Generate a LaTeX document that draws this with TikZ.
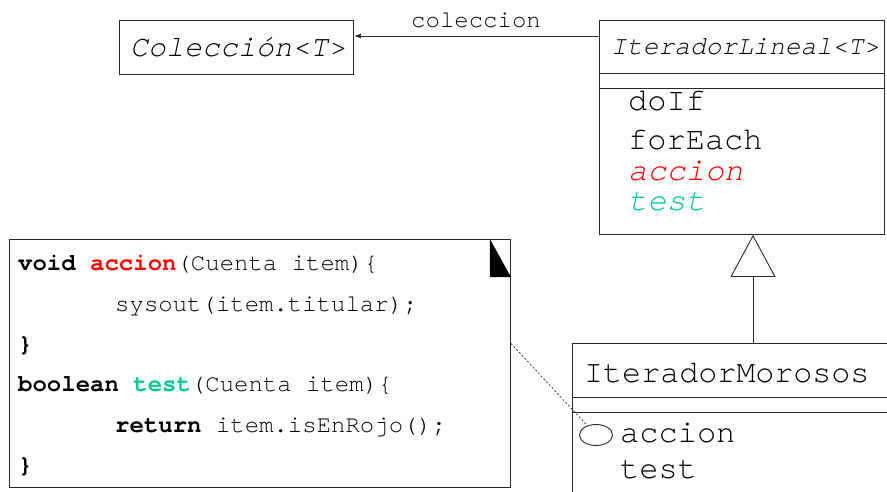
\documentclass[tikz,border=0pt]{standalone}
\usepackage{fontspec}
\newfontfamily\cour{TeX Gyre Cursor}
\usetikzlibrary{arrows.meta,shapes.geometric}
\definecolor{hookred}{RGB}{255,0,0}
\definecolor{hookteal}{RGB}{0,200,150}
\definecolor{edge}{RGB}{40,40,40}
\newcommand\setfs[1]{\fontsize{#1}{#1}\selectfont}
\tikzset{
  classbox/.style={draw=edge, line width=0.9pt, anchor=north west, inner sep=0pt},
  rule/.style={draw=edge, line width=0.9pt},
  lbl/.style={inner sep=0pt, anchor=base west, text=black},
  member/.style={lbl, font=\cour\setfs{32}},
  code/.style={lbl, font=\cour\setfs{24}},
}
\begin{document}
\begin{tikzpicture}[x=1pt,y=-1pt]
\useasboundingbox (0,0) rectangle (887,491);
\clip (0,0) rectangle (887,491);

% Colección<T>
\node[classbox, minimum width=234pt, minimum height=54pt] (col) at (119,20) {};
\node[lbl, anchor=base, font=\cour\itshape\setfs{30}] (colname) at (238,56) {Colección<T>};

% IteradorLineal<T>
\node[classbox, minimum width=285pt, minimum height=214pt] (lineal) at (599,20) {};
\draw[rule] (lineal.west |- 0,73) -- (lineal.east |- 0,73);
\draw[rule] (lineal.west |- 0,88) -- (lineal.east |- 0,88);
\node[lbl, font=\cour\itshape\setfs{26.3}] (linealname) at (611,54) {IteradorLineal<T>};
\node[member] (doif) at (628,110) {doIf};
\node[member] (foreach) at (628,149) {forEach};
\node[member, font=\cour\itshape\setfs{32}, text=hookred] (laccion) at (628,180) {accion};
\node[member, font=\cour\itshape\setfs{32}, text=hookteal] (ltest) at (628,210) {test};

% association
\draw[rule, -{Latex[length=7pt,width=5pt]}] (lineal.west |- 0,36) -- (col.east |- 0,36);
\node[lbl, anchor=base, font=\cour\setfs{24}] (assoclabel) at (476,27) {coleccion};

% IteradorMorosos
\node[classbox, minimum width=330pt, minimum height=170pt] (morosos) at (572,343) {};
\draw[rule] (morosos.west |- 0,397) -- (morosos.east |- 0,397);
\draw[rule] (morosos.west |- 0,412) -- (morosos.east |- 0,412);
\node[member, font=\cour\setfs{31.7}] (morosname) at (584,382) {IteradorMorosos};
\node[draw=edge, line width=0.9pt, ellipse, minimum width=33pt, minimum height=21pt, inner sep=0pt] (oval) at (596,435) {};
\node[member] (maccion) at (620,442) {accion};
\node[member] (mtest) at (620,478) {test};

% generalization
\draw[rule, -{Triangle[open,length=42pt,width=45pt]}] (753,0 |- morosos.north) -- (753,0 |- lineal.south);

% code note
\node[classbox, minimum width=501pt, minimum height=248pt] (note) at (9,239) {};
\fill[black] (note.north east) ++(-21,0) -- ++(0,38) -- ++(21,0) -- cycle;
\node[code] (c1) at (18,270) {\bfseries void \textcolor{hookred}{accion}\mdseries(Cuenta item)\{};
\node[code] (c2) at (115,311) {sysout(item.titular);};
\node[code] (c3) at (18,351) {\bfseries \}};
\node[code] (c4) at (18,391) {\bfseries boolean \textcolor{hookteal}{test}\mdseries(Cuenta item)\{};
\node[code] (c5) at (115,432) {\bfseries return\mdseries{} item.isEnRojo();};
\node[code] (c6) at (18,472) {\bfseries \}};

% note anchor line
\draw[draw=edge, line width=0.7pt, dash pattern=on 2pt off 2pt] ([yshift=20pt]note.east) -- (oval);
\end{tikzpicture}
\end{document}
